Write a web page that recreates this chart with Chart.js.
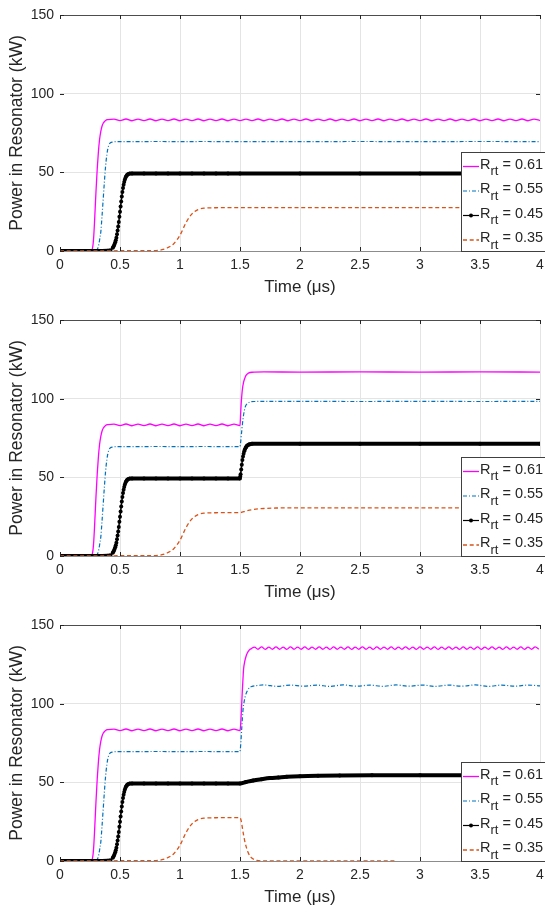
<!DOCTYPE html>
<html><head><meta charset="utf-8">
<script src="https://cdn.jsdelivr.net/npm/chart.js@4.4.1/dist/chart.umd.min.js"></script>
<style>
html,body{margin:0;padding:0;background:#fff;overflow:hidden;width:545px;height:906px;}
.p{position:absolute;left:0;width:560px;height:300px;}
</style></head><body>
<div class="p" style="top:0"><canvas id="c1" width="560" height="300"></canvas></div>
<div class="p" style="top:305px"><canvas id="c2" width="560" height="300"></canvas></div>
<div class="p" style="top:610px"><canvas id="c3" width="560" height="300"></canvas></div>
<script>
// ---------- tick labels / legend ----------
const X_TICKS = [0, 0.5, 1, 1.5, 2, 2.5, 3, 3.5, 4];
const Y_TICKS = [0, 50, 100, 150];
const LEGEND_VALUES = ['0.61', '0.55', '0.45', '0.35'];

// ---------- shared part, 0 - 1.5 us (identical in all panels) ----------
// R = 0.61 (magenta)
const M_RISE_T = [0, 0.1, 0.2, 0.25, 0.26, 0.27, 0.28, 0.29, 0.30, 0.31, 0.32, 0.33, 0.34, 0.35, 0.36, 0.38, 0.40];
const M_RISE_P = [0, 0, 0, 0.1, 0.4, 1.5, 8, 22, 38, 52, 63, 71, 76, 79.3, 81.2, 83, 83.5];
const M_PRE_T = [0.45,0.50,0.55,0.60,0.65,0.70,0.75,0.80,0.85,0.90,0.95,1.00,1.05,1.10,1.15,1.20,1.25,1.30,1.35,1.40,1.45,1.50];
const M_PRE_P = [83.8,82.9,83.9,82.8,83.8,82.9,83.9,82.8,83.8,82.9,83.9,82.8,83.8,82.9,83.9,82.8,83.8,82.9,83.9,82.8,83.8,82.9];
// R = 0.55 (blue)
const B_PRE_T = [0, 0.1, 0.2, 0.28, 0.30, 0.31, 0.32, 0.33, 0.34, 0.35, 0.36, 0.37, 0.38, 0.39, 0.40, 0.41, 0.42, 0.44, 0.48, 0.6, 0.8, 1.0, 1.2, 1.4, 1.5];
const B_PRE_P = [0, 0, 0, 0.1, 0.3, 1, 3, 7, 12, 22, 33, 44, 54, 61, 65.5, 67.8, 68.8, 69.3, 69.5, 69.5, 69.6, 69.5, 69.6, 69.5, 69.5];
// R = 0.45 (black, dotted markers)
const K_PRE_T = [0, 0.05, 0.10, 0.15, 0.20, 0.25, 0.30, 0.35, 0.40, 0.42,
  0.440,0.445,0.450,0.455,0.460,0.465,0.470,0.475,0.480,0.485,0.490,0.495,0.500,0.505,0.510,0.515,0.520,0.525,0.530,0.535,0.540,0.545,0.550,0.555,0.560,0.565,0.570,0.580,0.600,
  0.7, 0.8, 0.9, 1.0, 1.1, 1.2, 1.3, 1.4, 1.5];
const K_PRE_P = [0, 0, 0, 0, 0, 0, 0, 0, 0.1, 0.5,
  2.0,2.7,3.5,4.4,5.5,6.9,8.5,10.6,13.0,15.6,18.5,21.7,25.0,28.3,31.5,34.6,37.5,40.0,42.1,43.9,45.3,46.4,47.3,47.9,48.4,48.7,48.9,49.2,49.3,
  49.3, 49.3, 49.3, 49.3, 49.3, 49.3, 49.3, 49.3, 49.3];
// R = 0.35 (orange)
const O_PRE_T = [0, 0.2, 0.4, 0.6, 0.8, 0.85, 0.9, 0.95, 1.0, 1.05, 1.1, 1.15, 1.2, 1.3, 1.4, 1.5];
const O_PRE_P = [0, 0, 0.1, 0.2, 0.3, 0.8, 2.2, 4.8, 10, 18, 23.6, 26.3, 27.2, 27.5, 27.6, 27.6];

// ---------- panel 1, after 1.5 us ----------
const M1_T = [1.55,1.60,1.65,1.70,1.75,1.80,1.85,1.90,1.95,2.00,2.05,2.10,2.15,2.20,2.25,2.30,2.35,2.40,2.45,2.50,
  2.55,2.60,2.65,2.70,2.75,2.80,2.85,2.90,2.95,3.00,3.05,3.10,3.15,3.20,3.25,3.30,3.35,3.40,3.45,3.50,
  3.55,3.60,3.65,3.70,3.75,3.80,3.85,3.90,3.95,4.00];
const M1_P = [83.8,82.9,83.9,82.8,83.8,82.9,83.9,82.8,83.8,82.9,83.9,82.8,83.8,82.9,83.9,82.8,83.8,82.9,83.9,82.8,
  83.8,82.9,83.9,82.8,83.8,82.9,83.9,82.8,83.8,82.9,83.9,82.8,83.8,82.9,83.9,82.8,83.8,82.9,83.9,82.8,
  83.8,82.9,83.9,82.8,83.8,82.9,83.9,82.8,83.8,82.9];
const B1_T = [2.0, 2.5, 3.0, 3.5, 4.0];
const B1_P = [69.5, 69.6, 69.5, 69.6, 69.5];
const K1_T = [2.0, 2.5, 3.0, 3.5, 4.0];
const K1_P = [49.3, 49.3, 49.3, 49.3, 49.3];
const O1_T = [2.0, 2.5, 3.0, 3.5, 4.0];
const O1_P = [27.6, 27.6, 27.6, 27.6, 27.6];

// ---------- panel 2, after 1.5 us ----------
const M2_T = [1.505,1.51,1.515,1.52,1.53,1.54,1.55,1.57,1.60,1.70,2.0,2.5,3.0,3.5,4.0];
const M2_P = [90,97,102,106,110.5,113,114.8,116.2,116.8,117,116.9,117,116.9,117,116.9];
const B2_T = [1.505,1.515,1.525,1.535,1.545,1.56,1.58,1.62,2.0,2.5,3.0,3.5,4.0];
const B2_P = [72,80,87,92,95,96.8,97.8,98.2,98.3,98.2,98.3,98.2,98.3];
const K2_T = [1.502,1.505,1.51,1.515,1.52,1.525,1.53,1.535,1.54,1.545,1.55,1.555,1.56,1.57,1.58,1.60,2.0,2.5,3.0,3.5,4.0];
const K2_P = [50.5,52,55,58,61,63.2,65,66.5,67.6,68.5,69.2,69.8,70.2,70.7,71,71.3,71.3,71.3,71.3,71.3,71.3];
const O2_T = [1.55,1.6,1.65,1.7,1.8,2.0,2.5,3.0,3.5,4.0];
const O2_P = [28.6,29.4,29.9,30.2,30.5,30.6,30.6,30.6,30.6,30.6];

// ---------- panel 3, after 1.5 us ----------
const M3_T = [1.505,1.51,1.515,1.52,1.525,1.53,1.54,1.55,1.56,1.575,1.595,
  1.62,1.65,1.68,1.71,1.74,1.77,1.80,1.83,1.86,1.89,1.92,1.95,1.98,2.01,2.04,2.07,2.10,2.13,2.16,2.19,
  2.22,2.25,2.28,2.31,2.34,2.37,2.40,2.43,2.46,2.49,2.52,2.55,2.58,2.61,2.64,2.67,2.70,2.73,2.76,2.79,
  2.82,2.85,2.88,2.91,2.94,2.97,3.00,3.03,3.06,3.09,3.12,3.15,3.18,3.21,3.24,3.27,3.30,3.33,3.36,3.39,
  3.42,3.45,3.48,3.51,3.54,3.57,3.60,3.63,3.66,3.69,3.72,3.75,3.78,3.81,3.84,3.87,3.90,3.93,3.96,3.99];
const M3_P = [86,93,101,109,116,122,127,130,132,133.9,135,
  136.0,134.6,136.1,134.5,136.0,134.6,136.1,134.6,136.0,134.5,136.1,134.6,136.0,134.6,136.1,134.5,136.0,134.6,136.1,134.6,
  136.0,134.5,136.1,134.6,136.0,134.6,136.1,134.5,136.0,134.6,136.1,134.6,136.0,134.5,136.1,134.6,136.0,134.6,136.1,134.5,
  136.0,134.6,136.1,134.6,136.0,134.5,136.1,134.6,136.0,134.6,136.1,134.5,136.0,134.6,136.1,134.6,136.0,134.5,136.1,134.6,
  136.0,134.6,136.1,134.5,136.0,134.6,136.1,134.6,136.0,134.5,136.1,134.6,136.0,134.6,136.1,134.5,136.0,134.6,136.1,134.6];
const B3_T = [1.505,1.515,1.525,1.535,1.545,1.56,1.58,1.60,1.65,
  1.70,1.81,1.92,2.03,2.14,2.25,2.36,2.47,2.58,2.69,2.80,2.91,3.02,3.13,3.24,3.35,3.46,3.57,3.68,3.79,3.90,4.00];
const B3_P = [73,85,96,101.5,105,108,110.2,111,111.6,
  111.9,111.0,111.8,111.1,111.8,111.0,111.9,111.1,111.8,111.0,111.9,111.1,111.8,111.0,111.8,111.1,111.9,111.0,111.8,111.1,111.8,111.3];
const K3_T = [1.55,1.61,1.68,1.75,1.82,1.89,2.0,2.15,2.33,2.6,3.0,3.5,4.0];
const K3_P = [50.2,51.2,52.0,52.7,53.1,53.5,53.9,54.2,54.4,54.5,54.5,54.5,54.5];
const O3_T = [1.51,1.52,1.53,1.54,1.55,1.56,1.57,1.59,1.61,1.64,1.7,2.2,2.8];
const O3_P = [25.5,21,16.5,12.5,9.5,7,5,2.5,1.3,0.4,0,0,0];

// ---------- build ----------
const pts = (t, p) => t.map((v, i) => ({x: v, y: p[i]}));
const COLORS = ['#FF00FF', '#0072BD', '#000000', '#D95319'];
const DASHES = [[], [4, 2, 1, 2], [], [4, 2.7]];
const FONT = '"Liberation Sans", Arial, Helvetica, sans-serif';
const TXT = '#262626';

function makeDatasets(m, b, k, o) {
  return [
    {data: m, borderColor: COLORS[0], borderWidth: 1.3, pointRadius: 0, order: 3, cubicInterpolationMode: 'monotone'},
    {data: b, borderColor: COLORS[1], borderWidth: 1.2, borderDash: DASHES[1], pointRadius: 0, order: 2, cubicInterpolationMode: 'monotone'},
    {data: k, borderColor: COLORS[2], borderWidth: 1.5, pointRadius: 2, pointBorderWidth: 0, pointBackgroundColor: '#000', order: 1,
      cubicInterpolationMode: 'monotone',
      segment: {borderWidth: c => {
        const dx = c.p1.parsed.x - c.p0.parsed.x, dy = Math.abs(c.p1.parsed.y - c.p0.parsed.y);
        return (dy / dx) < 30 ? 4 : 1.5;
      }}},
    {data: o, borderColor: COLORS[3], borderWidth: 1.3, borderDash: DASHES[3], pointRadius: 0, order: 0, cubicInterpolationMode: 'monotone'}
  ];
}

const decoPlugin = {
  id: 'deco',
  afterDatasetsDraw(chart) {
    const {ctx, chartArea: ca, scales: {x, y}} = chart;
    ctx.save();
    ctx.strokeStyle = TXT; ctx.lineWidth = 1; ctx.setLineDash([]);
    ctx.beginPath();
    X_TICKS.forEach(v => {
      const px = Math.round(x.getPixelForValue(v)) + 0.5;
      ctx.moveTo(px, ca.bottom); ctx.lineTo(px, ca.bottom - 4);
      ctx.moveTo(px, ca.top); ctx.lineTo(px, ca.top + 4);
    });
    Y_TICKS.forEach(v => {
      const py = Math.round(y.getPixelForValue(v)) + 0.5;
      ctx.moveTo(ca.left, py); ctx.lineTo(ca.left + 4, py);
      ctx.moveTo(ca.right, py); ctx.lineTo(ca.right - 4, py);
    });
    ctx.stroke();
    // legend box
    const x0 = 461.5, y1 = Math.round(ca.bottom) + 0.5, y0 = y1 - 99, x1 = ca.right + 12;
    ctx.fillStyle = '#fff';
    ctx.fillRect(x0, y0, x1 - x0, y1 - y0);
    ctx.strokeStyle = '#404040'; ctx.lineWidth = 1;
    ctx.strokeRect(x0, y0, x1 - x0, y1 - y0);
    chart.data.datasets.forEach((ds, i) => {
      const cy = y0 + 12 + i * 24.5;
      ctx.save();
      ctx.strokeStyle = ds.borderColor;
      ctx.lineWidth = (i === 2) ? 1.2 : ds.borderWidth;
      ctx.setLineDash(DASHES[i]);
      ctx.beginPath(); ctx.moveTo(463, cy + 2); ctx.lineTo(479, cy + 2); ctx.stroke();
      if (i === 2) { ctx.fillStyle = '#000'; ctx.beginPath(); ctx.arc(471, cy + 2, 2, 0, Math.PI * 2); ctx.fill(); }
      ctx.restore();
      ctx.fillStyle = TXT; ctx.textBaseline = 'middle'; ctx.textAlign = 'left';
      ctx.font = '14.5px ' + FONT;
      ctx.fillText('R', 480, cy);
      const w1 = ctx.measureText('R').width;
      ctx.font = '13px ' + FONT;
      ctx.fillText('rt', 480 + w1, cy + 7);
      const w2 = ctx.measureText('rt').width;
      ctx.font = '14.5px ' + FONT;
      ctx.fillText(' = ' + LEGEND_VALUES[i], 480 + w1 + w2, cy);
    });
    ctx.restore();
  }
};

function makeChart(id, m, b, k, o) {
  return new Chart(document.getElementById(id), {
    type: 'line',
    data: {datasets: makeDatasets(m, b, k, o)},
    plugins: [decoPlugin],
    options: {
      responsive: false, animation: false, devicePixelRatio: 1, events: [],
      layout: {padding: {top: 15, right: 20, bottom: 0, left: 0}},
      plugins: {legend: {display: false}, tooltip: {enabled: false}},
      scales: {
        x: {
          type: 'linear', min: 0, max: 4,
          afterBuildTicks: s => { s.ticks = X_TICKS.map(v => ({value: v})); },
          afterFit: s => { s.height = 49; },
          ticks: {color: TXT, font: {family: FONT, size: 14}, padding: 6, maxRotation: 0, autoSkip: false,
            callback: v => String(v)},
          grid: {drawTicks: false, color: c => (c.tick && c.tick.value === 0) ? 'rgba(0,0,0,0)' : '#e4e4e4'},
          border: {display: true, color: '#8c8c8c', width: 1},
          title: {display: true, text: 'Time (\u03BCs)', color: TXT, font: {family: FONT, size: 17}, padding: {top: 0, bottom: 2}}
        },
        y: {
          min: 0, max: 150,
          afterBuildTicks: s => { s.ticks = Y_TICKS.map(v => ({value: v})); },
          afterFit: s => { s.width = 60; },
          ticks: {color: TXT, font: {family: FONT, size: 14}, padding: 6, callback: v => String(v)},
          grid: {drawTicks: false, color: c => (c.tick && c.tick.value === 150) ? '#4d4d4d' : '#e4e4e4'},
          border: {display: false},
          title: {display: true, text: 'Power in Resonator (kW)', color: TXT, font: {family: FONT, size: 17.5}, padding: {top: 7, bottom: 0}}
        }
      }
    }
  });
}

const mPre = pts(M_RISE_T, M_RISE_P).concat(pts(M_PRE_T, M_PRE_P));
const bPre = pts(B_PRE_T, B_PRE_P);
const kPre = pts(K_PRE_T, K_PRE_P);
const oPre = pts(O_PRE_T, O_PRE_P);

makeChart('c1', mPre.concat(pts(M1_T, M1_P)), bPre.concat(pts(B1_T, B1_P)), kPre.concat(pts(K1_T, K1_P)), oPre.concat(pts(O1_T, O1_P)));
makeChart('c2', mPre.concat(pts(M2_T, M2_P)), bPre.concat(pts(B2_T, B2_P)), kPre.concat(pts(K2_T, K2_P)), oPre.concat(pts(O2_T, O2_P)));
makeChart('c3', mPre.concat(pts(M3_T, M3_P)), bPre.concat(pts(B3_T, B3_P)), kPre.concat(pts(K3_T, K3_P)), oPre.concat(pts(O3_T, O3_P)));
</script>
</body></html>
